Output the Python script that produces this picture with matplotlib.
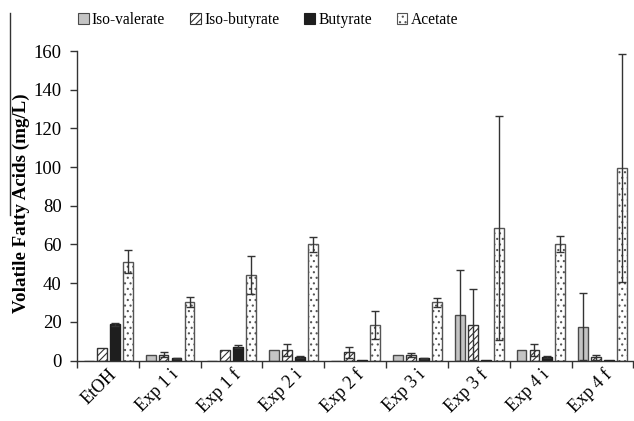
import matplotlib
matplotlib.use("Agg")
import matplotlib.pyplot as plt
import numpy as np
from matplotlib.lines import Line2D
from matplotlib.patches import Patch

categories = ["EtOH", "Exp 1 i", "Exp 1 f", "Exp 2 i", "Exp 2 f",
              "Exp 3 i", "Exp 3 f", "Exp 4 i", "Exp 4 f"]
series = ["Iso-valerate", "Iso-butyrate", "Butyrate", "Acetate"]

iso_valerate = [0, 3.0, 0, 5.4, 0, 2.8, 23.4, 5.4, 17.5]
iso_valerate_err = [0, 0, 0, 0, 0, 0, 23.6, 0, 17.2]
iso_butyrate = [6.4, 3.0, 5.4, 5.4, 4.2, 2.8, 18.5, 5.4, 1.6]
iso_butyrate_err = [0, 1.4, 0, 3.1, 2.8, 1.2, 18.3, 3.1, 1.2]
butyrate = [18.8, 1.1, 7.1, 1.6, 0.5, 1.1, 0.3, 1.9, 0.3]
butyrate_err = [0.8, 0.4, 0.7, 0.5, 0, 0.3, 0, 0.5, 0]
acetate = [51.0, 30.1, 44.2, 60.0, 18.4, 30.1, 68.4, 60.2, 99.4]
acetate_err = [6.0, 2.5, 10.0, 4.0, 7.4, 2.4, 58.0, 4.0, 58.8]

values = [iso_valerate, iso_butyrate, butyrate, acetate]
errors = [iso_valerate_err, iso_butyrate_err, butyrate_err, acetate_err]

plt.rcParams['font.family'] = ['Liberation Serif', 'DejaVu Serif']
plt.rcParams['hatch.linewidth'] = 0.8

fig = plt.figure(figsize=(6.34, 4.21), dpi=100)
ax = fig.add_axes([77/634, 1-360.5/421, 1-77/634 - 0.001, (360.5-51)/421])

offsets = [0.19, 0.40, 0.61, 0.82]
width = 0.16
styles = [
    dict(facecolor='#c4c4c4', edgecolor='#4a4a4a', hatch=None),
    dict(facecolor='white', edgecolor='#333333', hatch='/////'),
    dict(facecolor='#1e1e1e', edgecolor='#1e1e1e', hatch=None),
    dict(facecolor='white', edgecolor='#555555', hatch='...'),
]
x = np.arange(len(categories))
for vals, errs, off, st in zip(values, errors, offsets, styles):
    xs = x + off
    ax.bar(xs, vals, width=width, facecolor=st['facecolor'],
           edgecolor=st['edgecolor'], hatch=st['hatch'], linewidth=1.0, zorder=2)
    e = np.array(errs, dtype=float)
    mask = e > 0
    ax.errorbar(xs[mask], np.array(vals)[mask], yerr=e[mask], fmt='none',
                ecolor='#333333', elinewidth=1.0, capsize=3, capthick=1.0, zorder=3)

ax.set_xlim(0, len(categories))
ax.set_ylim(0, 160)
ax.set_yticks(np.arange(0, 161, 20))
ax.tick_params(axis='y', labelsize=13.5, direction='out', length=5, width=1, color='#333333', pad=6)
ax.set_xticks(np.arange(0, len(categories) + 1))
ax.set_xticklabels([])
ax.tick_params(axis='x', which='major', direction='out', length=5, width=1, color='#333333')
ax.set_xticks(x + 0.5, minor=True)
ax.set_xticklabels(categories, minor=True, rotation=45, ha='right', rotation_mode='anchor', fontsize=13)
ax.tick_params(axis='x', which='minor', length=0, pad=4)

for s in ['top', 'right']:
    ax.spines[s].set_visible(False)
for s in ['left', 'bottom']:
    ax.spines[s].set_color('#333333')
    ax.spines[s].set_linewidth(1.0)

fig.text(21/634, 1-203/421, "Volatile Fatty Acids (mg/L)", rotation=90,
         ha='center', va='center', fontsize=13.7, fontweight='bold')

handles = [Patch(facecolor=st['facecolor'], edgecolor=st['edgecolor'], hatch=st['hatch'], linewidth=0.8)
           for st in styles]
fig.legend(handles, series, loc='center', bbox_to_anchor=(268/634, 1-20/421), ncol=4,
           frameon=False, fontsize=11.2, handlelength=0.7, handleheight=0.7,
           handletextpad=0.2, columnspacing=1.6)

fig.add_artist(Line2D([10/634, 10/634], [1-13/421, 1-215/421], color='#333333', lw=1.0))

fig.savefig("out.png", dpi=100)
